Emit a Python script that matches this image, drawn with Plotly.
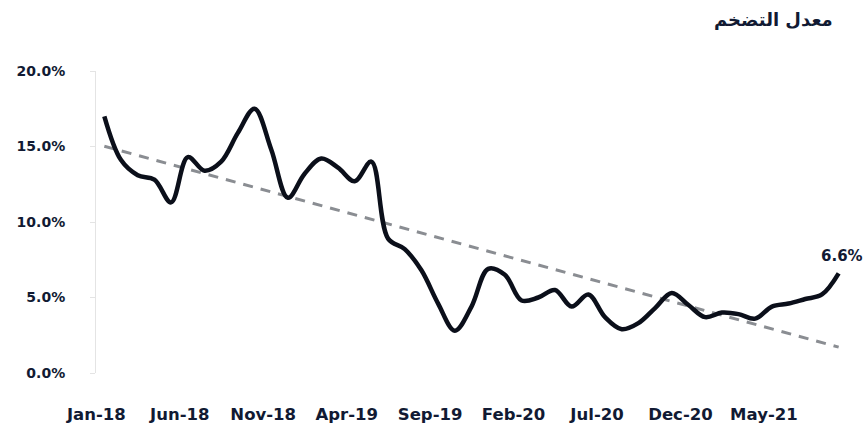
import numpy as np
import plotly.graph_objects as go

# Monthly headline inflation, Jan-18 .. Sep-21 (percent)
months = [
    "Jan-18", "Feb-18", "Mar-18", "Apr-18", "May-18", "Jun-18", "Jul-18", "Aug-18",
    "Sep-18", "Oct-18", "Nov-18", "Dec-18", "Jan-19", "Feb-19", "Mar-19", "Apr-19",
    "May-19", "Jun-19", "Jul-19", "Aug-19", "Sep-19", "Oct-19", "Nov-19", "Dec-19",
    "Jan-20", "Feb-20", "Mar-20", "Apr-20", "May-20", "Jun-20", "Jul-20", "Aug-20",
    "Sep-20", "Oct-20", "Nov-20", "Dec-20", "Jan-21", "Feb-21", "Mar-21", "Apr-21",
    "May-21", "Jun-21", "Jul-21", "Aug-21", "Sep-21",
]
inflation = [
    17.0, 14.1, 13.1, 12.8, 11.3, 14.3, 13.4, 14.0,
    15.9, 17.5, 14.8, 11.6, 13.2, 14.2, 13.6, 12.7,
    14.0, 8.9, 8.2, 6.8, 4.6, 2.8, 4.4, 6.9,
    6.5, 4.8, 5.0, 5.5, 4.4, 5.2, 3.7, 2.9,
    3.3, 4.3, 5.3, 4.5, 3.7, 4.0, 3.9, 3.6,
    4.4, 4.6, 4.9, 5.2, 6.6,
]
x_tick_labels = ["Jan-18", "Jun-18", "Nov-18", "Apr-19", "Sep-19",
                 "Feb-20", "Jul-20", "Dec-20", "May-21"]
y_tick_values = [0, 5, 10, 15, 20]
title_text = "معدل التضخم"

TEXT = "#111a33"
LINE = "#0b0f1a"

# Linear trend fitted to the monthly series
idx = np.arange(len(inflation))
slope, intercept = np.polyfit(idx, inflation, 1)
trend = [intercept, intercept + slope * idx[-1]]

fig = go.Figure()
fig.add_trace(go.Scatter(
    x=[months[0], months[-1]], y=trend, mode="lines",
    line=dict(color="#8a8d92", width=3, dash="10px,8px"),
    hoverinfo="skip", showlegend=False,
))
fig.add_trace(go.Scatter(
    x=months, y=inflation, mode="lines",
    line=dict(color=LINE, width=4.5, shape="spline", smoothing=1.0),
    showlegend=False,
))

fig.add_annotation(
    x=months[-1], y=inflation[-1], text=f"{inflation[-1]:.1f}%",
    showarrow=False, xanchor="center", yanchor="middle",
    xshift=3, yshift=17,
    font=dict(family="DejaVu Sans", size=15, color=TEXT, weight="bold"),
)
fig.add_annotation(
    xref="paper", yref="paper", x=0.984, y=1.17,
    text=title_text, showarrow=False, xanchor="right", yanchor="middle",
    font=dict(family="DejaVu Sans", size=18, color=TEXT, weight="bold"),
)

fig.update_layout(
    width=865, height=436,
    margin=dict(l=96, r=18, t=71, b=63),
    paper_bgcolor="white", plot_bgcolor="white",
)
fig.update_xaxes(
    type="category", categoryorder="array", categoryarray=months,
    range=[-0.5, len(months) - 0.5],
    tickmode="array", tickvals=x_tick_labels, ticktext=x_tick_labels,
    showgrid=False, zeroline=False, showline=False, ticks="",
    ticklabelstandoff=29, ticklabelshift=-8,
    tickfont=dict(family="DejaVu Sans", size=16.5, color=TEXT, weight="bold"),
)
fig.update_yaxes(
    range=[0, 20], tickmode="array", tickvals=y_tick_values,
    ticktext=[f"{v:.1f}%" for v in y_tick_values],
    showgrid=False, zeroline=False,
    showline=True, linecolor="#e4e4e4", linewidth=1,
    ticks="outside", ticklen=5, tickcolor="#e4e4e4",
    ticklabelstandoff=22,
    tickfont=dict(family="DejaVu Sans", size=14, color=TEXT, weight="bold"),
)

fig.write_html("out.html")
